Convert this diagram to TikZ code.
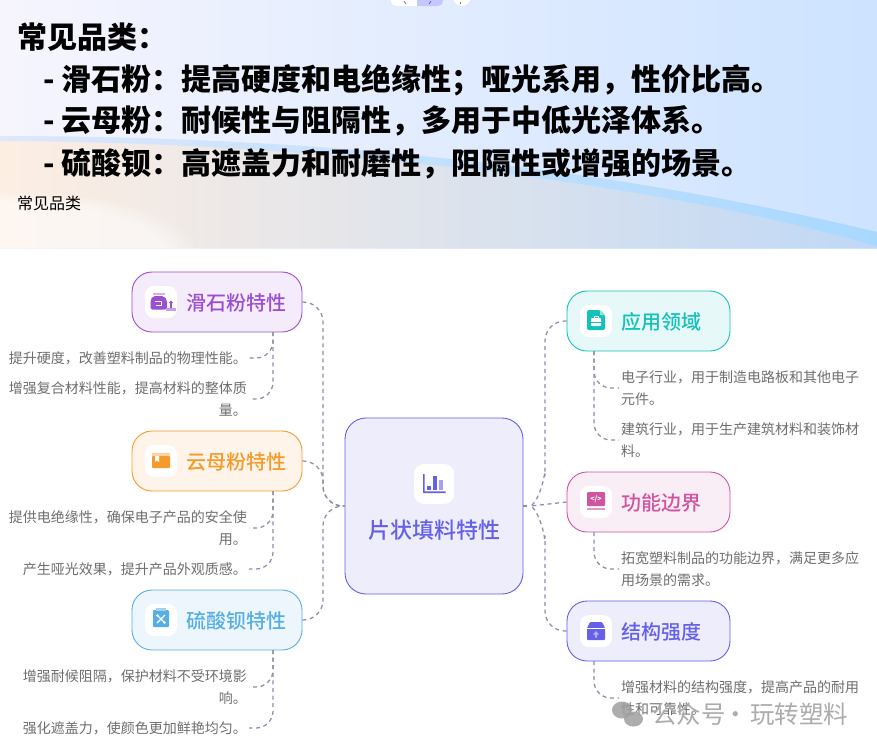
\documentclass[tikz,border=0pt]{standalone}
\usepackage{fontspec}
\setmainfont{Noto Sans CJK SC}
\newfontfamily\midfont{Noto Sans CJK SC Medium}
\newfontfamily\headfont{Noto Sans CJK SC Black}
\usetikzlibrary{positioning,fadings}
\definecolor{linkgray}{HTML}{8E8CAB}
\definecolor{leafgray}{HTML}{6E6E6E}
\definecolor{talcline}{HTML}{9B4FD0}
\definecolor{talcfill}{HTML}{F4ECFA}
\definecolor{micaline}{HTML}{F79A2C}
\definecolor{micafill}{HTML}{FEF4E9}
\definecolor{bariumline}{HTML}{56AFE3}
\definecolor{bariumfill}{HTML}{EDF6FC}
\definecolor{coreline}{HTML}{6560E8}
\definecolor{corefill}{HTML}{EEEDFB}
\definecolor{applyline}{HTML}{13C2B8}
\definecolor{applyfill}{HTML}{E6F8F7}
\definecolor{funcline}{HTML}{D0549E}
\definecolor{funcfill}{HTML}{F9EEF5}
\definecolor{skyleft}{HTML}{F6F5FE}
\definecolor{skymid}{HTML}{E6EEFD}
\definecolor{skyright}{HTML}{CDE3FF}
\definecolor{lowleft}{HTML}{FDEEE2}
\definecolor{lowmid}{HTML}{DFE2EE}
\definecolor{lowright}{HTML}{BFD8F6}
\definecolor{bandleft}{HTML}{DCE8FC}
\definecolor{bandright}{HTML}{A9D8FF}
\begin{document}
\begin{tikzpicture}
    [
    x=1pt,y=-1pt,
    branch/.style={draw,line width=0.9pt,rounded corners=20pt,minimum height=60pt,inner sep=0pt},
    leftbox/.style={branch,minimum width=170pt},
    rightbox/.style={branch,minimum width=163pt},
    centerbox/.style={draw,line width=0.9pt,rounded corners=21pt,minimum width=178pt,minimum height=176pt,inner sep=0pt},
    tile/.style={fill=white,rounded corners=9pt,minimum size=32pt,inner sep=0pt},
    caption/.style={inner sep=0pt,font=\midfont\fontsize{20}{24}\selectfont},
    leftleaf/.style={inner sep=2pt,align=right,anchor=east,text=leafgray,font=\fontsize{14}{22}\selectfont},
    rightleaf/.style={inner sep=2pt,align=left,anchor=west,text=leafgray,font=\fontsize{14}{22}\selectfont},
    heading/.style={anchor=west,inner sep=0pt,font=\headfont\fontsize{30}{32}\selectfont},
    link/.style={draw=linkgray,line width=1.25pt,dash pattern=on 4pt off 3.6pt,rounded corners=20pt},
    sublink/.style={link,rounded corners=17pt}
    ]
    \useasboundingbox (0,0) rectangle (877,748);
    \fill [white] (0,0) rectangle (877,748);

    % banner
    \begin{scope}
      \clip (0,0) rectangle (877,248);
      \shade [left color=skyleft,middle color=skymid,right color=skyright] (0,0) rectangle (877,248);
      \begin{scope}
        \clip (0,138) .. controls (260,138) and (560,160) .. (877,240) -- (877,248) -- (0,248) -- cycle;
        \shade [left color=lowleft,middle color=lowmid,right color=lowright] (0,130) rectangle (877,248);
        \fill [white,opacity=0.55,path fading=circle with fuzzy edge 20 percent] (-170,190) rectangle (200,320);
      \end{scope}
      \shade [left color=bandleft,right color=bandright] (0,136) .. controls (260,136) and (560,156) .. (877,232) -- (877,246) .. controls (640,178) and (300,142) .. (0,141) -- cycle;
      \fill [white,rounded corners=5pt] (391,-10) rectangle (417,6) -- cycle;
      \fill [white] (405,-10) rectangle (417,6);
      \fill [blue!22,rounded corners=5pt] (417,-10) rectangle (443,6);
      \fill [blue!22] (417,-10) rectangle (430,6);
      \fill [white] (462,-3) circle (9);
      \draw [gray,line width=0.8pt] (404,1) -- (406,4);
      \draw [coreline,line width=0.8pt] (431,1) -- (429,4);
      \draw [gray,line width=0.8pt] (460,2) -- (460,4);
    \end{scope}
    \node (title) at (17,37) [heading] {常见品类：};
    \node (item1) at (43,80) [heading] {-\hspace{7pt}滑石粉：提高硬度和电绝缘性；哑光系用，性价比高。};
    \node (item2) at (43,121) [heading] {-\hspace{7pt}云母粉：耐候性与阻隔性，多用于中低光泽体系。};
    \node (item3) at (43,164) [heading] {-\hspace{7pt}硫酸钡：高遮盖力和耐磨性，阻隔性或增强的场景。};
    \node (note) at (17,203) [anchor=west,inner sep=0pt,font=\fontsize{16}{18}\selectfont] {常见品类};

    % boxes
    \node (core) at (434,506) [centerbox,draw=coreline,fill=corefill] {};
    \node (talc) at (217,302) [leftbox,draw=talcline,fill=talcfill] {};
    \node (mica) at (217,461) [leftbox,draw=micaline,fill=micafill] {};
    \node (barium) at (217,620) [leftbox,draw=bariumline,fill=bariumfill] {};
    \node (apply) at (648.5,321) [rightbox,draw=applyline,fill=applyfill] {};
    \node (func) at (648.5,502) [rightbox,draw=funcline,fill=funcfill] {};
    \node (struct) at (648.5,631) [rightbox,draw=coreline,fill=corefill] {};

    \node (coretext) at (434,530) [inner sep=0pt,text=coreline,font=\midfont\fontsize{22}{24}\selectfont] {片状填料特性};
    \node (talctext) at (236.5,303) [caption,text=talcline] {滑石粉特性};
    \node (micatext) at (236.5,462) [caption,text=micaline] {云母粉特性};
    \node (bariumtext) at (236.5,621) [caption,text=bariumline] {硫酸钡特性};
    \node (applytext) at (661.5,322) [caption,text=applyline] {应用领域};
    \node (functext) at (661.5,503) [caption,text=funcline] {功能边界};
    \node (structtext) at (661.5,632) [caption,text=coreline] {结构强度};

    % icon tiles
    \node (coretile) at (434,484) [tile,minimum size=40pt,rounded corners=10pt] {};
    \node (talctile) at (161,302) [tile] {};
    \node (micatile) at (161,461) [tile] {};
    \node (bariumtile) at (161,620) [tile] {};
    \node (applytile) at (596,321) [tile] {};
    \node (functile) at (596,502) [tile] {};
    \node (structtile) at (596,631) [tile] {};

    % icons
    \fill [coreline] (423,474) -- (424.6,474) -- (424.6,491.4) -- (445.5,491.4) -- (445.5,493) -- (423,493) -- cycle;
    \fill [coreline] (427,486) rectangle (431,490);
    \fill [coreline] (433,476) rectangle (437,490);
    \fill [coreline!60] (439,480) rectangle (443,490);

    \fill [talcline!45] (152.5,293) rectangle (165,295);
    \fill [talcline,rounded corners=2pt] (153,296) -- (164,296) -- (167,300) -- (167,309.5) -- (150.5,309.5) -- (150.5,300) -- cycle;
    \draw [white,line width=0.9pt] (155,301.5) -- (161,301.5) -- (161,305) -- (156,305);
    \fill [talcline] (171,302.5) circle (1.8);
    \fill [talcline] (170,303) rectangle (172,307.5);
    \fill [talcline!55] (165.5,307.5) rectangle (176,310.5);

    \fill [micaline!45] (152,453) rectangle (170,456);
    \fill [micaline,rounded corners=0.8pt] (152,456) rectangle (170,468);
    \fill [white] (155,456) -- (155,462) -- (157,460.5) -- (159,462) -- (159,456) -- cycle;

    \fill [bariumline,rounded corners=1pt] (153,610) rectangle (169,627);
    \fill [bariumline!55] (156,608) rectangle (166,611);
    \draw [white,line width=1.3pt] (157,615) -- (165,623) (165,615) -- (157,623);
    \fill [white] (157.5,615.5) circle (1.4) (164.5,622.5) circle (1.4);

    \fill [applyline,rounded corners=1.5pt] (587,310) -- (600,310) -- (605,315) -- (605,330) -- (587,330) -- cycle;
    \fill [applyline!45] (600,310) -- (605,315) -- (600,315) -- cycle;
    \fill [white,rounded corners=0.8pt] (591,318) rectangle (601,326);
    \draw [applyline,line width=0.6pt] (591,322) -- (601,322);
    \draw [white,line width=0.8pt] (594,318) -- (594,316.5) -- (598,316.5) -- (598,318);

    \fill [funcline,rounded corners=1pt] (587,492) rectangle (605,506);
    \fill [funcline!60] (587,507.5) rectangle (605,510);
    \node (funcmark) at (596,499) [inner sep=0pt,text=white,font=\bfseries\fontsize{7}{7}\selectfont] {</>};

    \fill [coreline,rounded corners=1pt] (587,628) -- (590,622) -- (602,622) -- (605,628) -- (605,640) -- (587,640) -- cycle;
    \draw [white,line width=0.6pt] (587,628) -- (605,628);
    \fill [coreline!50!white] (596,631) -- (599,634.5) -- (597,634.5) -- (597,637.5) -- (595,637.5) -- (595,634.5) -- (593,634.5) -- cycle;

    % leaves
    \node (talc1) at (249,358) [leftleaf] {提升硬度，改善塑料制品的物理性能。};
    \node (talc2) at (249,399) [leftleaf] {增强复合材料性能，提高材料的整体质\\量。};
    \node (mica1) at (249,528) [leftleaf] {提供电绝缘性，确保电子产品的安全使\\用。};
    \node (mica2) at (249,569) [leftleaf] {产生哑光效果，提升产品外观质感。};
    \node (barium1) at (249,687) [leftleaf] {增强耐候阻隔，保护材料不受环境影\\响。};
    \node (barium2) at (249,728) [leftleaf] {强化遮盖力，使颜色更加鲜艳均匀。};
    \node (apply1) at (619,388) [rightleaf] {电子行业，用于制造电路板和其他电子\\元件。};
    \node (apply2) at (619,440) [rightleaf] {建筑行业，用于生产建筑材料和装饰材\\料。};
    \node (func1) at (619,569) [rightleaf] {拓宽塑料制品的功能边界，满足更多应\\用场景的需求。};
    \node (struct1) at (619,698) [rightleaf] {增强材料的结构强度，提高产品的耐用\\性和可靠性。};

    % feet of the sub branches
    \coordinate (talcfoot) at (273,332);
    \coordinate (micafoot) at (273,491);
    \coordinate (bariumfoot) at (273,650);
    \coordinate (applyfoot) at (594,351);
    \coordinate (funcfoot) at (594,532);
    \coordinate (structfoot) at (594,661);
    \coordinate (leftbus) at (323,506);
    \coordinate (hub) at (531,506);
    \coordinate (rightup) at (545,488);
    \coordinate (rightdown) at (545,524);

    \draw [link] (talc.east) -| (leftbus) -- (core.west);
    \draw [link] (mica.east) -| (leftbus) -- (core.west);
    \draw [link] (barium.east) -| (leftbus) -- (core.west);
    \draw [link] (core.east) to (hub);
    \draw [link] (func.west) to (hub);
    \draw [link] (apply.west) -| (rightup) to [out=90,in=35] (hub);
    \draw [link] (struct.west) -| (rightdown) to [out=-90,in=-35] (hub);

    \draw [sublink] (talcfoot) |- (talc1.east);
    \draw [sublink] (talcfoot) |- (talc2.east);
    \draw [sublink] (micafoot) |- (mica1.east);
    \draw [sublink] (micafoot) |- (mica2.east);
    \draw [sublink] (bariumfoot) |- (barium1.east);
    \draw [sublink] (bariumfoot) |- (barium2.east);
    \draw [sublink] (applyfoot) |- (apply1.west);
    \draw [sublink] (applyfoot) |- (apply2.west);
    \draw [sublink] (funcfoot) |- (func1.west);
    \draw [sublink] (structfoot) |- (struct1.west);

    % watermark
    \fill [gray!75,opacity=0.85] (622,710) ellipse (10 and 8.5);
    \fill [gray!75,opacity=0.85] (633.5,719) ellipse (9.5 and 7.5);
    \node (mark) at (652,714) [anchor=west,inner sep=0pt,text=gray!65,font=\fontsize{24.5}{26}\selectfont] {公众号\hspace{-2pt}·\hspace{2pt}玩转塑料};
\end{tikzpicture}
\end{document}
